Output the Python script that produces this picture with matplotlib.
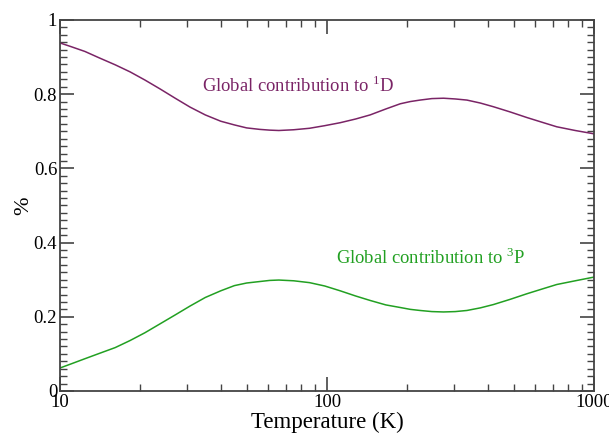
import numpy as np
import matplotlib
matplotlib.use('Agg')
import matplotlib.pyplot as plt
from matplotlib.ticker import MultipleLocator, LogLocator, NullFormatter

plt.rcParams['font.family'] = ['Liberation Serif', 'DejaVu Serif']
plt.rcParams['mathtext.fontset'] = 'custom'
plt.rcParams['mathtext.rm'] = 'Liberation Serif'

# temperature grid (K) and the two contributions
temperature = [10, 11, 12.4, 14, 16.1, 18.3, 20.8, 23.7, 27, 30.7, 35, 40,
               45, 50, 56, 61, 66, 75, 86, 98, 112, 128, 145, 166, 188, 205,
               223, 247, 273, 302, 334, 375, 420, 485, 560, 640, 725, 850,
               1000]
contrib_1d = [0.938, 0.928, 0.915, 0.898, 0.879, 0.860, 0.838, 0.814, 0.789,
              0.765, 0.744, 0.727, 0.717, 0.709, 0.705, 0.703, 0.702, 0.704,
              0.708, 0.715, 0.723, 0.733, 0.744, 0.760, 0.774, 0.780, 0.784,
              0.788, 0.789, 0.787, 0.784, 0.776, 0.766, 0.752, 0.737, 0.724,
              0.712, 0.702, 0.693]
contrib_3p = [0.062, 0.073, 0.087, 0.101, 0.117, 0.136, 0.157, 0.181, 0.205,
              0.229, 0.252, 0.270, 0.284, 0.291, 0.295, 0.298, 0.299, 0.297,
              0.292, 0.283, 0.270, 0.256, 0.244, 0.232, 0.225, 0.220, 0.217,
              0.214, 0.213, 0.214, 0.217, 0.224, 0.233, 0.247, 0.262, 0.275,
              0.287, 0.297, 0.307]

purple = '#7a2466'
green = '#22a022'

fig = plt.figure(figsize=(6.09, 4.33), dpi=100)
ax = fig.add_axes([0.0985, 0.097, 0.877, 0.857])

ax.plot(temperature, contrib_1d, color=purple, lw=1.1)
ax.plot(temperature, contrib_3p, color=green, lw=1.1)

ax.set_xscale('log')
ax.set_xlim(10, 1000)
ax.set_ylim(0, 1)

ax.xaxis.set_minor_locator(LogLocator(base=10, subs=np.arange(2, 10)))
ax.xaxis.set_minor_formatter(NullFormatter())
ax.set_xticks([10, 100, 1000])
ax.set_xticklabels(['10', '100', '1000'])
ax.yaxis.set_minor_locator(MultipleLocator(0.02))
ax.set_yticks([0, 0.2, 0.4, 0.6, 0.8, 1.0])
ax.set_yticklabels(['0', '0.2', '0.4', '0.6', '0.8', '1'])

ax.tick_params(which='both', direction='in', top=True, right=True,
               colors='#444444', labelcolor='black', labelsize=13.5)
ax.tick_params(which='major', length=10, width=1.2, pad=2)
ax.tick_params(which='minor', length=5, width=1.0)
for s in ax.spines.values():
    s.set_color('#444444')
    s.set_linewidth(1.3)

ax.set_xlabel('Temperature (K)', fontsize=16.5, labelpad=1)
ax.set_ylabel('%', fontsize=16, labelpad=0)

ax.text(34, 0.805, 'Global contribution to $^{1}$D', color=purple, fontsize=13.4)
ax.text(108, 0.343, 'Global contribution to $^{3}$P', color=green, fontsize=13.4)

fig.savefig('out.png', dpi=100)
